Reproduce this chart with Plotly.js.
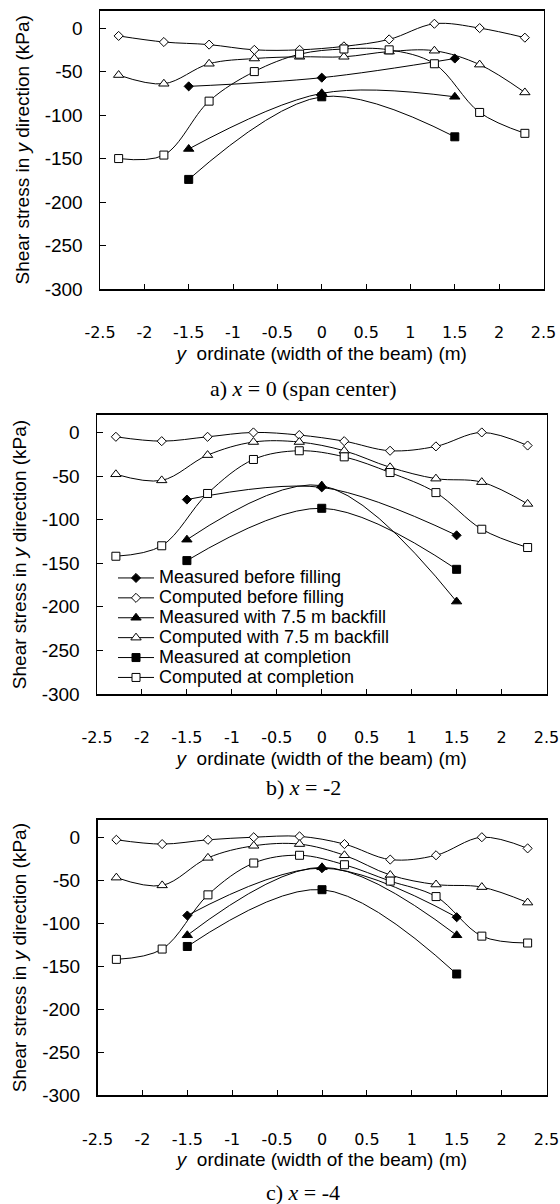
<!DOCTYPE html>
<html><head><meta charset="utf-8">
<script src="https://cdn.plot.ly/plotly-3.0.1.min.js"></script>
<style>html,body{margin:0;padding:0;background:#fff}#chart{width:560px;height:1204px}</style>
</head><body><div id="chart"></div>
<script>
// ---- data ----
const yComputed = [-2.29, -1.78, -1.27, -0.76, -0.25, 0.25, 0.76, 1.27, 1.78, 2.29];
const yMeasured = [-1.5, 0, 1.5];

const seriesNames = [
  'Measured before filling',
  'Computed before filling',
  'Measured with 7.5 m backfill',
  'Computed with 7.5 m backfill',
  'Measured at completion',
  'Computed at completion'
];

// a) x = 0 (span center)
const a_measBefore = [-67, -57, -35];
const a_compBefore = [-9, -16, -19, -25, -25, -21, -13, 5, 0, -11];
const a_meas75     = [-139, -75, -79];
const a_comp75     = [-54, -64, -41, -35, -33, -33, -27, -26, -42, -74];
const a_measDone   = [-174, -79, -125];
const a_compDone   = [-150, -146, -84, -50, -30, -24, -25, -41, -97, -121];

// b) x = -2
const b_measBefore = [-77, -63, -118];
const b_compBefore = [-5, -10, -5, 0, -3, -10, -21, -16, 0, -15];
const b_meas75     = [-123, -61, -194];
const b_comp75     = [-48, -55, -26, -11, -11, -21, -40, -53, -57, -82];
const b_measDone   = [-147, -87, -157];
const b_compDone   = [-142, -130, -70, -31, -21, -28, -46, -69, -111, -132];

// c) x = -4
const c_measBefore = [-91, -36, -93];
const c_compBefore = [-3, -8, -3, 0, 1, -8, -26, -21, 0, -13];
const c_meas75     = [-114, -35, -114];
const c_comp75     = [-47, -56, -24, -10, -8, -21, -44, -55, -58, -76];
const c_measDone   = [-127, -61, -159];
const c_compDone   = [-142, -130, -67, -30, -21, -32, -51, -69, -115, -123];

const xTickVals = [-2.5, -2, -1.5, -1, -0.5, 0, 0.5, 1, 1.5, 2, 2.5];
const xTickText = ['-2.5', '-2', '-1.5', '-1', '-0.5', '0', '0.5', '1', '1.5', '2', '2.5'];
const yTickVals = [0, -50, -100, -150, -200, -250, -300];
const yTickText = ['0', '-50', '-100', '-150', '-200', '-250', '-300'];

const captions = ['a) <i>x</i> = 0 (span center)', 'b) <i>x</i> = -2', 'c) <i>x</i> = -4'];

// ---- styles ----
const markerStyles = [
  {symbol: 'diamond', size: 7, color: '#000', line: {color: '#000', width: 1}},
  {symbol: 'diamond', size: 7, color: '#fff', line: {color: '#000', width: 1}},
  {symbol: 'triangle-up', size: 9, color: '#000', line: {color: '#000', width: 1}},
  {symbol: 'triangle-up', size: 9, color: '#fff', line: {color: '#000', width: 1}},
  {symbol: 'square', size: 8, color: '#000', line: {color: '#000', width: 1}},
  {symbol: 'square', size: 8, color: '#fff', line: {color: '#000', width: 1}}
];

const panels = [
  [a_measBefore, a_compBefore, a_meas75, a_comp75, a_measDone, a_compDone],
  [b_measBefore, b_compBefore, b_meas75, b_comp75, b_measDone, b_compDone],
  [c_measBefore, c_compBefore, c_meas75, c_comp75, c_measDone, c_compDone]
];

const traces = [];
panels.forEach((series, p) => {
  const sfx = p === 0 ? '' : String(p + 1);
  series.forEach((vals, i) => {
    traces.push({
      type: 'scatter', mode: 'lines+markers',
      x: (i % 2 === 0) ? yMeasured : yComputed,
      y: vals,
      name: '<span style="font-size:18px">' + seriesNames[i] + '</span>',
      showlegend: p === 1,
      line: {color: '#000', width: 1, shape: 'spline', smoothing: 1},
      marker: markerStyles[i],
      xaxis: 'x' + sfx, yaxis: 'y' + sfx,
      cliponaxis: false
    });
  });
});

const W = 560, H = 1204;
const plotBoxes = [ // [left, right, top, bottom] in px
  [100, 543.5, 10.7, 289],
  [97, 546.5, 415, 694],
  [97.5, 546.5, 820, 1095.3]
];

const sans = 'Liberation Sans, Arial, sans-serif';
const tickSans = 'DejaVu Sans, Verdana, sans-serif';
const layout = {
  width: W, height: H,
  margin: {l: 0, r: 0, t: 0, b: 0},
  paper_bgcolor: '#fff', plot_bgcolor: '#fff',
  font: {family: sans, color: '#000'},
  showlegend: true,
  legend: {
    x: 113 / W, y: 1 - 563 / H, xanchor: 'left', yanchor: 'top',
    bgcolor: 'rgba(0,0,0,0)', borderwidth: 0,
    font: {family: sans, size: 13, color: '#000'},
    itemwidth: 36, traceorder: 'normal'
  },
  annotations: [],
  shapes: []
};

const captionY = [388, 787, 1192];
plotBoxes.forEach((b, p) => {
  const sfx = p === 0 ? '' : String(p + 1);
  layout['xaxis' + sfx] = {
    domain: [b[0] / W, b[1] / W],
    anchor: 'y' + sfx,
    range: [-2.5, 2.5],
    tickvals: xTickVals, ticktext: xTickText,
    ticks: 'inside', ticklen: 5, tickwidth: 1, tickcolor: '#000',
    showline: true, linecolor: '#000', linewidth: 2, mirror: true,
    showgrid: false, zeroline: false,
    tickfont: {family: tickSans, size: 16, color: '#000'},
    ticklabelstandoff: 28,
    ticklabeloverflow: 'allow',
    title: {text: '<i>y</i>  ordinate (width of the beam) (m)', font: {family: sans, size: 19, color: '#000'}, standoff: 5}
  };
  layout['yaxis' + sfx] = {
    domain: [1 - b[3] / H, 1 - b[2] / H],
    anchor: 'x' + sfx,
    range: [-300, 20],
    tickvals: yTickVals, ticktext: yTickText,
    ticks: 'inside', ticklen: 6, tickwidth: 1, tickcolor: '#000',
    showline: true, linecolor: '#000', linewidth: 1.5, mirror: true,
    showgrid: false, zeroline: false,
    tickfont: {family: sans, size: 19, color: '#000'},
    ticklabelstandoff: 12,
    title: {text: 'Shear stress in <i>y</i> direction (kPa)', font: {family: sans, size: 19, color: '#000'}, standoff: 10}
  };
  layout.annotations.push({
    xref: 'paper', yref: 'paper', x: 303 / W, y: 1 - captionY[p] / H,
    xanchor: 'center', yanchor: 'middle', showarrow: false,
    text: captions[p],
    font: {family: 'Liberation Serif, Times New Roman, serif', size: 22, color: '#000'}
  });
});

Plotly.newPlot('chart', traces, layout, {staticPlot: true, displayModeBar: false});
</script>
</body></html>
